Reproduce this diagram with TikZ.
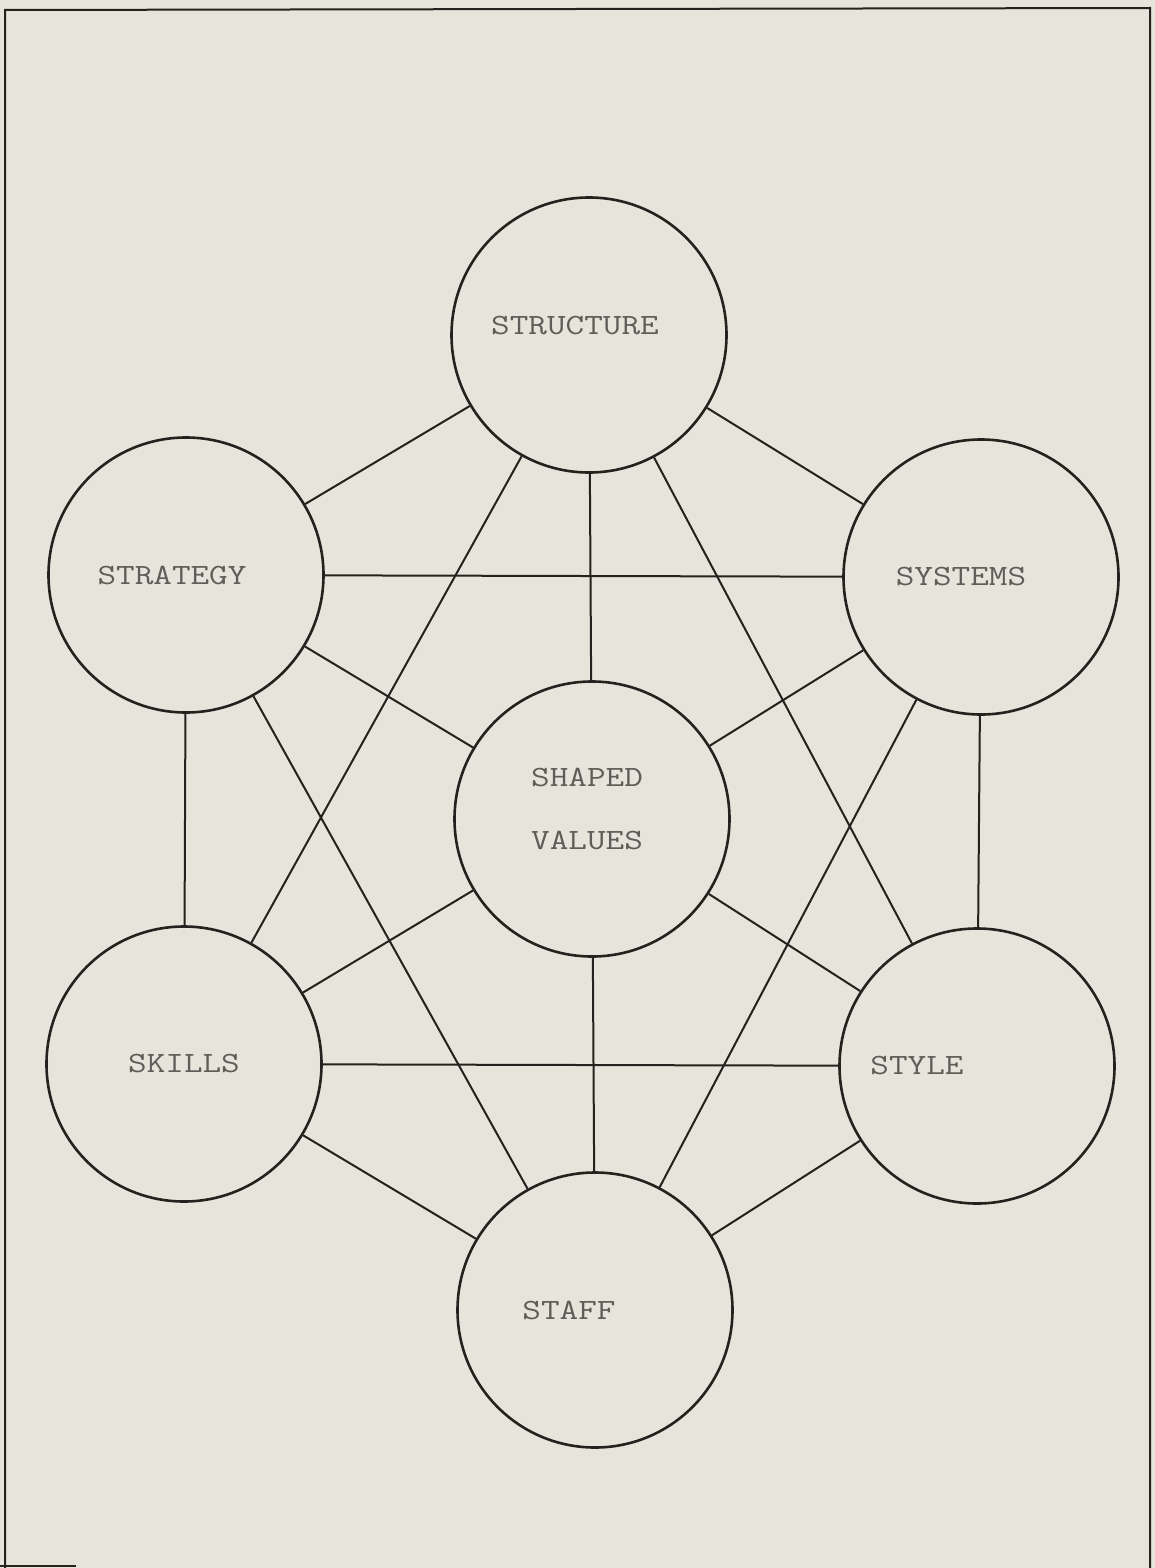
\documentclass[tikz,border=0pt]{standalone}
\usepackage{fontspec}
\usepackage{xcolor}
\usepackage{tikz}
\definecolor{spaper}{HTML}{E5E5DB}
\definecolor{sink}{HTML}{26211E}
\definecolor{stype}{HTML}{5E5D59}

\begin{document}
\begin{tikzpicture}[x=0.5pt, y=-0.5pt,
  sbox/.style={circle, draw=sink, line width=1.3pt, minimum size=137.5pt, inner sep=0pt},
  slbl/.style={text=stype, font=\ttfamily\fontsize{14.7}{19}\selectfont, inner sep=0pt},
  swide/.style={transform shape, xscale=1.23},
  slink/.style={draw=sink, line width=1pt}]
  \fill[spaper] (0,0) rectangle (1155,1568);
  \useasboundingbox (0,0) rectangle (1155,1568);
  \draw[sink, line width=1pt] (5,1568) -- (5,10) -- (1150,8) -- (1150,1568);
  \draw[sink, line width=1pt] (0,1566) -- (76,1566);

  \node[sbox, label={[slbl, xshift=-7pt, yshift=4.5pt, swide]center:STRUCTURE}] (structure) at (589,335) {};
  \node[sbox, label={[slbl, xshift=-7pt, swide]center:STRATEGY}] (strategy) at (186,575) {};
  \node[sbox, label={[slbl, xshift=-10pt, swide]center:SYSTEMS}] (systems) at (981,577) {};
  \node[sbox, label={[slbl, align=center, font=\ttfamily\fontsize{14.7}{31.5}\selectfont, xshift=-2.5pt, yshift=5pt, swide]center:SHAPED\\VALUES}] (values) at (592,819) {};
  \node[sbox, label={[slbl, swide]center:SKILLS}] (skills) at (184,1064) {};
  \node[sbox, label={[slbl, xshift=-30pt, swide]center:STYLE}] (style) at (977,1066) {};
  \node[sbox, label={[slbl, xshift=-13pt, swide]center:STAFF}] (staff) at (595,1310) {};

  \draw[slink] (structure) -- (strategy);
  \draw[slink] (structure) -- (systems);
  \draw[slink] (structure) -- (values);
  \draw[slink] (structure) -- (skills);
  \draw[slink] (structure) -- (style);
  \draw[slink] (strategy) -- (systems);
  \draw[slink] (strategy) -- (values);
  \draw[slink] (strategy) -- (skills);
  \draw[slink] (strategy) -- (staff);
  \draw[slink] (systems) -- (values);
  \draw[slink] (systems) -- (style);
  \draw[slink] (systems) -- (staff);
  \draw[slink] (values) -- (skills);
  \draw[slink] (values) -- (style);
  \draw[slink] (values) -- (staff);
  \draw[slink] (skills) -- (style);
  \draw[slink] (skills) -- (staff);
  \draw[slink] (style) -- (staff);
\end{tikzpicture}
\end{document}
